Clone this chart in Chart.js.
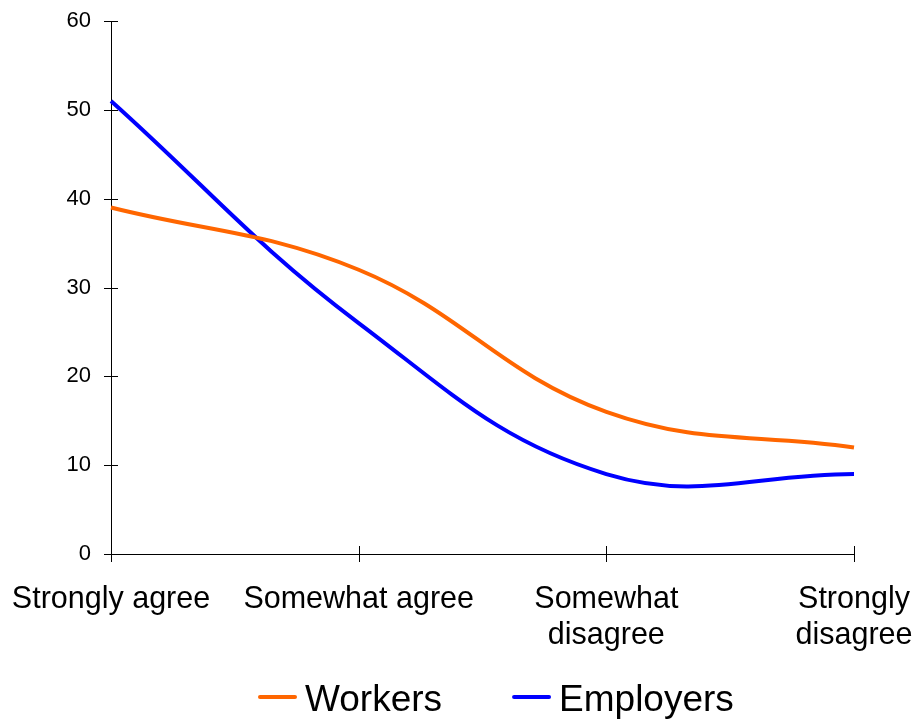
<!DOCTYPE html>
<html>
<head>
<meta charset="utf-8">
<script src="https://cdn.jsdelivr.net/npm/chart.js@4.4.0/dist/chart.umd.min.js"></script>
<style>
  html, body { margin: 0; padding: 0; background: #fff; }
  #wrap { width: 916px; height: 719px; }
</style>
</head>
<body>
<div id="wrap"><canvas id="myChart" width="916" height="719"></canvas></div>
<script>
// chart data
const categories = [
  "Strongly agree",
  "Somewhat agree",
  ["Somewhat", "disagree"],
  ["Strongly", "disagree"]
];
const workers = [39, 32, 16, 12];
const employers = [51, 26, 9, 9];
const yTicks = [0, 10, 20, 30, 40, 50, 60];

const FONT = "'Liberation Sans', Arial, sans-serif";

// tick marks that cross the axes, like the original
const crossTicks = {
  id: 'crossTicks',
  afterDraw(chart) {
    const ctx = chart.ctx;
    const x = chart.scales.x;
    const y = chart.scales.y;
    ctx.save();
    ctx.strokeStyle = '#000';
    ctx.lineWidth = 1;
    ctx.beginPath();
    yTicks.forEach(v => {
      let py = Math.round(y.getPixelForValue(v)) + 0.5;
      ctx.moveTo(x.left - 7, py);
      ctx.lineTo(x.left + 7, py);
    });
    categories.forEach((c, i) => {
      let px = Math.round(x.getPixelForValue(i)) + 0.5;
      ctx.moveTo(px, y.bottom - 8);
      ctx.lineTo(px, y.bottom + 8);
    });
    ctx.stroke();
    ctx.restore();
  }
};

// legend at the bottom: short line then label
const lineLegend = {
  id: 'lineLegend',
  afterDraw(chart) {
    const ctx = chart.ctx;
    ctx.save();
    ctx.font = '37px ' + FONT;
    ctx.textBaseline = 'alphabetic';
    ctx.textAlign = 'left';
    let lx = 258;
    const ly = 697;
    chart.data.datasets.forEach(ds => {
      ctx.strokeStyle = ds.borderColor;
      ctx.lineWidth = 4;
      ctx.lineCap = 'round';
      ctx.beginPath();
      ctx.moveTo(lx + 2, ly);
      ctx.lineTo(lx + 37, ly);
      ctx.stroke();
      ctx.fillStyle = '#000';
      ctx.fillText(ds.label, lx + 47, 711);
      lx = lx + 47 + ctx.measureText(ds.label).width + 70;
    });
    ctx.restore();
  }
};

new Chart(document.getElementById('myChart'), {
  type: 'line',
  data: {
    labels: categories,
    datasets: [
      {
        label: 'Workers',
        data: workers,
        borderColor: '#FF6600',
        backgroundColor: '#FF6600',
        borderWidth: 4,
        pointRadius: 0,
        tension: 0.4,
        fill: false
      },
      {
        label: 'Employers',
        data: employers,
        borderColor: '#0000FF',
        backgroundColor: '#0000FF',
        borderWidth: 4,
        pointRadius: 0,
        tension: 0.4,
        fill: false
      }
    ]
  },
  options: {
    responsive: false,
    animation: false,
    layout: { padding: { top: 21, right: 62, left: 0, bottom: 0 } },
    plugins: {
      legend: { display: false },
      tooltip: { enabled: false },
      title: { display: false }
    },
    scales: {
      x: {
        type: 'category',
        offset: false,
        grid: { display: false, drawTicks: false },
        border: { display: true, color: '#000', width: 1 },
        ticks: {
          color: '#000',
          font: { family: FONT, size: 30.5 },
          padding: 27,
          maxRotation: 0,
          autoSkip: false
        },
        afterFit(scale) {
          scale.height = 165;
          scale.paddingLeft = 0;
          scale.paddingRight = 0;
        }
      },
      y: {
        min: 0,
        max: 60,
        grid: { display: false, drawTicks: false },
        border: { display: true, color: '#000', width: 1 },
        ticks: {
          stepSize: 10,
          color: '#000',
          font: { family: FONT, size: 22 },
          padding: 20
        },
        afterFit(scale) {
          scale.width = 111;
          scale.paddingTop = 0;
          scale.paddingBottom = 0;
        }
      }
    }
  },
  plugins: [crossTicks, lineLegend]
});
</script>
</body>
</html>
